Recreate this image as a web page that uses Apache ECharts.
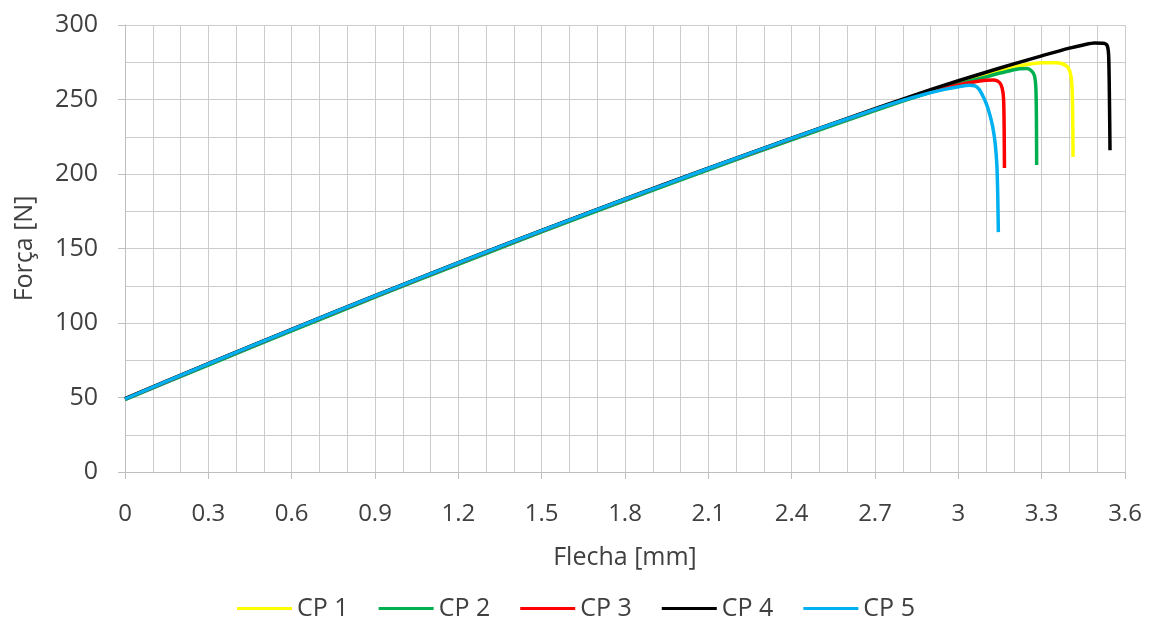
<!DOCTYPE html>
<html>
<head>
<meta charset="utf-8">
<script src="https://cdn.jsdelivr.net/npm/echarts@6/dist/echarts.min.js"></script>
<style>
html,body{margin:0;padding:0;background:#fff;}
#chart{width:1152px;height:621px;}
</style>
</head>
<body>
<div id="chart"></div>
<script>
// ---- Data ----
const seriesNames = ['CP 1', 'CP 2', 'CP 3', 'CP 4', 'CP 5'];
const seriesColors = ['#FFFF00', '#00B050', '#FF0000', '#000000', '#00B0F0'];

const xTickLabels = ['0', '0.3', '0.6', '0.9', '1.2', '1.5', '1.8', '2.1', '2.4', '2.7', '3', '3.3', '3.6'];
const yTickLabels = ['0', '50', '100', '150', '200', '250', '300'];

const cp1X = [0, 0.3, 0.6, 0.9, 1.2, 1.5, 1.8, 2.1, 2.4, 2.7, 2.8, 2.9, 3.0, 3.1, 3.2, 3.25, 3.3, 3.35, 3.375, 3.395, 3.405, 3.41, 3.412, 3.413];
const cp1Y = [49, 72.4, 95.4, 118, 140.1, 161.8, 182.9, 203.5, 223.7, 243.4, 249.8, 256, 261.8, 267.2, 271.8, 273.6, 274.6, 274.7, 274, 271.5, 266, 255, 235, 211.5];

const cp2X = [0, 0.3, 0.6, 0.9, 1.2, 1.5, 1.8, 2.1, 2.4, 2.7, 2.8, 2.9, 3.0, 3.1, 3.17, 3.22, 3.245, 3.262, 3.274, 3.279, 3.281, 3.282];
const cp2Y = [48.6, 71.7, 94.7, 117.3, 139.4, 161.1, 182.2, 202.8, 223, 242.6, 248.9, 254.8, 260.2, 265.2, 268.6, 270.6, 270.8, 269.5, 266, 258, 240, 206];

const cp3X = [0, 0.3, 0.6, 0.9, 1.2, 1.5, 1.8, 2.1, 2.4, 2.7, 2.8, 2.9, 3.0, 3.05, 3.1, 3.128, 3.148, 3.158, 3.163, 3.165, 3.166];
const cp3Y = [49, 72.5, 95.5, 118.1, 140.2, 161.9, 183, 203.6, 223.8, 243.4, 249.6, 255.2, 259.8, 261.6, 262.9, 263.1, 261.5, 257.5, 250, 230, 204];

const cp4X = [0, 0.3, 0.6, 0.9, 1.2, 1.5, 1.8, 2.1, 2.4, 2.7, 2.8, 2.9, 3.0, 3.1, 3.2, 3.3, 3.4, 3.45, 3.49, 3.52, 3.535, 3.541, 3.544, 3.546];
const cp4Y = [49.2, 72.8, 95.8, 118.4, 140.5, 162.2, 183.3, 203.9, 224.1, 243.8, 250.3, 256.6, 262.6, 268.3, 273.9, 279.3, 284.5, 286.6, 287.9, 287.8, 286.5, 280, 250, 216];

const cp5X = [0, 0.3, 0.6, 0.9, 1.2, 1.5, 1.8, 2.1, 2.4, 2.7, 2.8, 2.9, 2.95, 3.0, 3.04, 3.06, 3.075, 3.088, 3.1, 3.113, 3.124, 3.133, 3.139, 3.142, 3.144];
const cp5Y = [49, 72.6, 95.6, 118.2, 140.3, 162, 183.1, 203.7, 223.9, 243.4, 249.4, 254.6, 256.8, 258.6, 259.6, 259.2, 256.8, 252.5, 247.5, 240, 231.5, 220, 205, 185, 161];

const allX = [cp1X, cp2X, cp3X, cp4X, cp5X];
const allY = [cp1Y, cp2Y, cp3Y, cp4Y, cp5Y];

// ---- Chart ----
const FONT = '"Open Sans", "Noto Sans", sans-serif';
const TXT = '#404040';
const GRID = '#cccccc';

const chart = echarts.init(document.getElementById('chart'), null, {renderer: 'canvas'});

const series = seriesNames.map((name, i) => ({
  name: name,
  type: 'line',
  data: allX[i].map((x, k) => [x, allY[i][k]]),
  showSymbol: false,
  symbol: 'none',
  smooth: 0.25,
  lineStyle: {color: seriesColors[i], width: 3.5},
  itemStyle: {color: seriesColors[i]},
  emphasis: {disabled: true},
  animation: false
}));

chart.setOption({
  animation: false,
  backgroundColor: '#ffffff',
  textStyle: {fontFamily: FONT, color: TXT},
  grid: {left: 125, right: 27, top: 25, bottom: 149, containLabel: false},
  xAxis: {
    type: 'value',
    min: 0, max: 3.6, interval: 0.3,
    name: 'Flecha [mm]',
    nameLocation: 'middle',
    nameGap: 73,
    nameTextStyle: {fontSize: 25, color: TXT, fontFamily: FONT},
    axisLine: {show: true, onZero: false, lineStyle: {color: '#bfbfbf', width: 1}},
    axisTick: {show: true, length: 7, inside: false, lineStyle: {color: '#bfbfbf'}},
    axisLabel: {
      fontSize: 24, color: TXT, fontFamily: FONT, margin: 30,
      formatter: function (v) { return xTickLabels[Math.round(v / 0.3)]; }
    },
    splitLine: {show: true, lineStyle: {color: GRID, width: 1}},
    minorTick: {show: false, splitNumber: 3},
    minorSplitLine: {show: true, lineStyle: {color: GRID, width: 1}}
  },
  yAxis: {
    type: 'value',
    min: 0, max: 300, interval: 50,
    name: 'Força [N]',
    nameLocation: 'middle',
    nameGap: 88,
    nameRotate: 90,
    nameTextStyle: {fontSize: 25, color: TXT, fontFamily: FONT},
    axisLine: {show: true, lineStyle: {color: '#bfbfbf', width: 1}},
    axisTick: {show: true, length: 7, lineStyle: {color: '#bfbfbf'}},
    axisLabel: {
      fontSize: 25, color: TXT, fontFamily: FONT, margin: 27,
      formatter: function (v) { return yTickLabels[Math.round(v / 50)]; }
    },
    splitLine: {show: true, lineStyle: {color: GRID, width: 1}},
    minorTick: {show: false, splitNumber: 2},
    minorSplitLine: {show: true, lineStyle: {color: GRID, width: 1}}
  },
  legend: {
    show: true,
    data: seriesNames,
    left: 'center',
    top: 591,
    icon: 'rect',
    itemWidth: 55,
    itemHeight: 3,
    itemGap: 30,
    textStyle: {fontSize: 25, color: TXT, fontFamily: FONT}
  },
  series: series
});
</script>
</body>
</html>
